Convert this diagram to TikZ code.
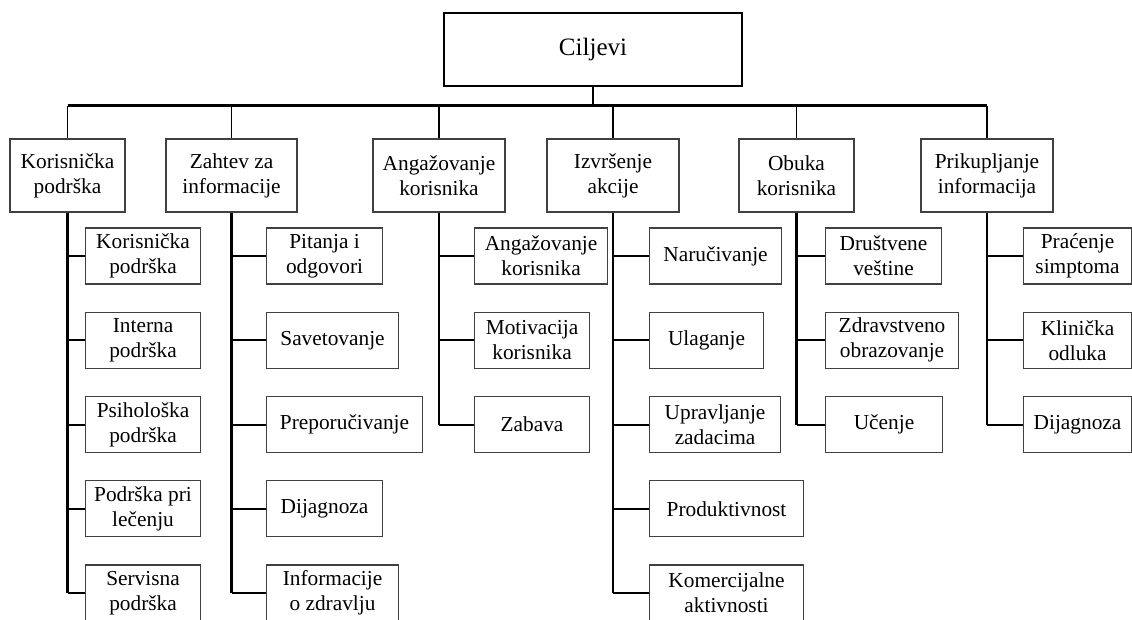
\documentclass[tikz,border=0pt]{standalone}
\usepackage{fontspec}
\setmainfont{Liberation Serif}
\begin{document}
\begin{tikzpicture}[x=0.75pt,y=-0.75pt,
  box/.style={draw=black!75, line width=0.8pt, fill=white, align=center,
    inner sep=0pt, font=\fontsize{16}{18.75}\selectfont},
  topbox/.style={box, draw=black, font=\fontsize{18.75}{22}\selectfont,
    minimum width=223.5pt, minimum height=54.75pt},
  head/.style={box, minimum height=54.75pt, minimum width=#1*0.75pt},
  leaf/.style={box, anchor=west, minimum height=42pt, minimum width=#1*0.75pt},
  trunk/.style={line width=2.2pt},
  bus/.style={line width=1.6pt},
  drop/.style={line width=1.4pt},
  stem/.style={line width=1.9pt},
  twig/.style={line width=1.5pt}]
\useasboundingbox (0,0) rectangle (1132,619);

% root
\node[topbox] (root) at (593,49.5) {Ciljevi};

% first level
\node[head=115] (h1) at (67.5,175.5)  {Korisnička\\podrška};
\node[head=131] (h2) at (231.5,175.5) {Zahtev za\\informacije};
\node[head=132] (h3) at (439,175.5)   {Angažovanje\\korisnika};
\node[head=132] (h4) at (613,175.5)   {Izvršenje\\akcije};
\node[head=115] (h5) at (796.5,175.5) {Obuka\\korisnika};
\node[head=132] (h6) at (987,175.5)   {Prikupljanje\\informacija};

% second level
\node[leaf=115] (a1) at (85,256)    {Korisnička\\podrška};
\node[leaf=115] (a2) at (85,340.25) {Interna\\podrška};
\node[leaf=115] (a3) at (85,424.5)  {Psihološka\\podrška};
\node[leaf=115] (a4) at (85,508.75) {Podrška pri\\lečenju};
\node[leaf=115] (a5) at (85,593)    {Servisna\\podrška};

\node[leaf=116] (b1) at (266,256)    {Pitanja i\\odgovori};
\node[leaf=132] (b2) at (266,340.25) {Savetovanje};
\node[leaf=156] (b3) at (266,424.5)  {Preporučivanje};
\node[leaf=116] (b4) at (266,508.75) {Dijagnoza};
\node[leaf=132] (b5) at (266,593)    {Informacije\\o zdravlju};

\node[leaf=133] (c1) at (474,256)    {Angažovanje\\korisnika};
\node[leaf=115] (c2) at (474,340.25) {Motivacija\\korisnika};
\node[leaf=115] (c3) at (474,424.5)  {Zabava};

\node[leaf=132] (d1) at (649,256)    {Naručivanje};
\node[leaf=114] (d2) at (649,340.25) {Ulaganje};
\node[leaf=131] (d3) at (649,424.5)  {Upravljanje\\zadacima};
\node[leaf=154] (d4) at (649,508.75) {Produktivnost};
\node[leaf=154] (d5) at (649,593)    {Komercijalne\\aktivnosti};

\node[leaf=116] (e1) at (825,256)    {Društvene\\veštine};
\node[leaf=133] (e2) at (825,340.25) {Zdravstveno\\obrazovanje};
\node[leaf=117] (e3) at (825,424.5)  {Učenje};

\node[leaf=108] (f1) at (1023,256)    {Praćenje\\simptoma};
\node[leaf=108] (f2) at (1023,340.25) {Klinička\\odluka};
\node[leaf=108] (f3) at (1023,424.5)  {Dijagnoza};

% root to first level
\coordinate (busline) at (0,105.5);
\draw[trunk] (root.south) -- (root.south |- busline);
\draw[bus] (h1.north |- busline) -- (h6.north |- busline);
\foreach \h in {h1,h2,h3,h4,h5,h6}
  \draw[drop] (\h.north) -- (\h.north |- busline);

% first level to second level
\draw[stem] (h1.south) -- (h1.south |- a5.west);
\draw[stem] (h2.south) -- (h2.south |- b5.west);
\draw[stem] (h3.south) -- (h3.south |- c3.west);
\draw[stem] (h4.south) -- (h4.south |- d5.west);
\draw[stem] (h5.south) -- (h5.south |- e3.west);
\draw[stem] (h6.south) -- (h6.south |- f3.west);

\foreach \c in {a1,a2,a3,a4,a5}
  \draw[twig] (h1.south |- \c.west) -- (\c.west);
\foreach \c in {b1,b2,b3,b4,b5}
  \draw[twig] (h2.south |- \c.west) -- (\c.west);
\foreach \c in {c1,c2,c3}
  \draw[twig] (h3.south |- \c.west) -- (\c.west);
\foreach \c in {d1,d2,d3,d4,d5}
  \draw[twig] (h4.south |- \c.west) -- (\c.west);
\foreach \c in {e1,e2,e3}
  \draw[twig] (h5.south |- \c.west) -- (\c.west);
\foreach \c in {f1,f2,f3}
  \draw[twig] (h6.south |- \c.west) -- (\c.west);
\end{tikzpicture}
\end{document}
